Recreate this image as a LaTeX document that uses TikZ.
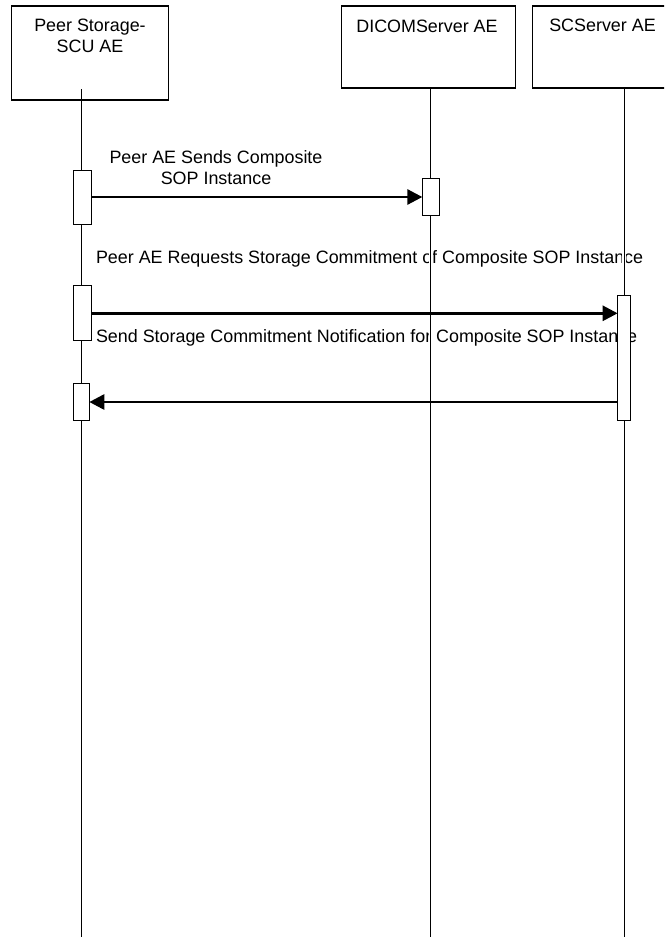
\documentclass[tikz,border=0pt]{standalone}
\usepackage{fontspec}
\setmainfont{Liberation Sans}
\usetikzlibrary{arrows.meta}
\begin{document}
\begin{tikzpicture}[x=1pt,y=-1pt,
  every node/.style={inner sep=0pt, outer sep=0pt},
  txt/.style={font=\fontsize{17.9}{21}\selectfont, align=center},
  headbox/.style={draw, line width=1.2pt, fill=white},
  life/.style={line width=1pt},
  halo/.style={white, line width=4pt},
  act/.style={draw, line width=1pt, fill=white},
  msg/.style={line width=2.8pt, -{Triangle[length=15pt,width=15pt]}}]

\useasboundingbox (0,0) rectangle (664,937);
\clip (0,0) rectangle (664,937);

% participant heads
\node[headbox, minimum width=156.6pt, minimum height=94pt] (peer) at (90,53) {};
\node[headbox, minimum width=174pt, minimum height=82pt] (dicom) at (428.7,47) {};
\node[headbox, minimum width=140.7pt, minimum height=82pt] (scs) at (602.6,47) {};
\node[txt, anchor=north] (peert) at (90,19.2) {Peer Storage-\\SCU AE};
\node[txt, anchor=north] (dicomt) at (427,19.6) {DICOMServer AE};
\node[txt, anchor=north] (scst) at (602.5,19.0) {SCServer AE};

% message labels
\node[txt, anchor=north] (m1) at (216,150.9) {Peer AE Sends Composite\\SOP Instance};
\node[txt, anchor=base west] (m2) at (96,263.3) {Peer AE Requests Storage Commitment of Composite SOP Instance};
\node[txt, anchor=base west] (m3) at (96,342) {Send Storage Commitment Notification for Composite SOP Instance};

% lifelines
\coordinate (peertop) at (81,89);
\coordinate (peerbot) at (81,937);
\coordinate (dicomtop) at (430.7,88);
\coordinate (dicombot) at (430.7,937);
\coordinate (scstop) at (624.3,88);
\coordinate (scsbot) at (624.3,937);
\foreach \l in {peer,dicom,scs}{
  \draw[halo] (\l top |- 0,140) -- (\l bot);
  \draw[life] (\l top) -- (\l bot);
}

% activation bars
\node[act, minimum width=17.7pt, minimum height=54pt] (a1) at (82.2,197) {};
\node[act, minimum width=16.7pt, minimum height=36.7pt] (a2) at (430.7,196.7) {};
\node[act, minimum width=17.7pt, minimum height=54.7pt] (a3) at (82.2,313.3) {};
\node[act, minimum width=13.3pt, minimum height=125pt] (a4) at (624.3,358.2) {};
\node[act, minimum width=16pt, minimum height=37.4pt] (a5) at (81.3,402) {};

% messages
\draw[msg] (a1.east) -- (a2.west |- a1.east);
\draw[msg] (a3.east) -- (a4.west |- a3.east);
\draw[msg] (a4.west |- a5.east) -- (a5.east);
\end{tikzpicture}
\end{document}
